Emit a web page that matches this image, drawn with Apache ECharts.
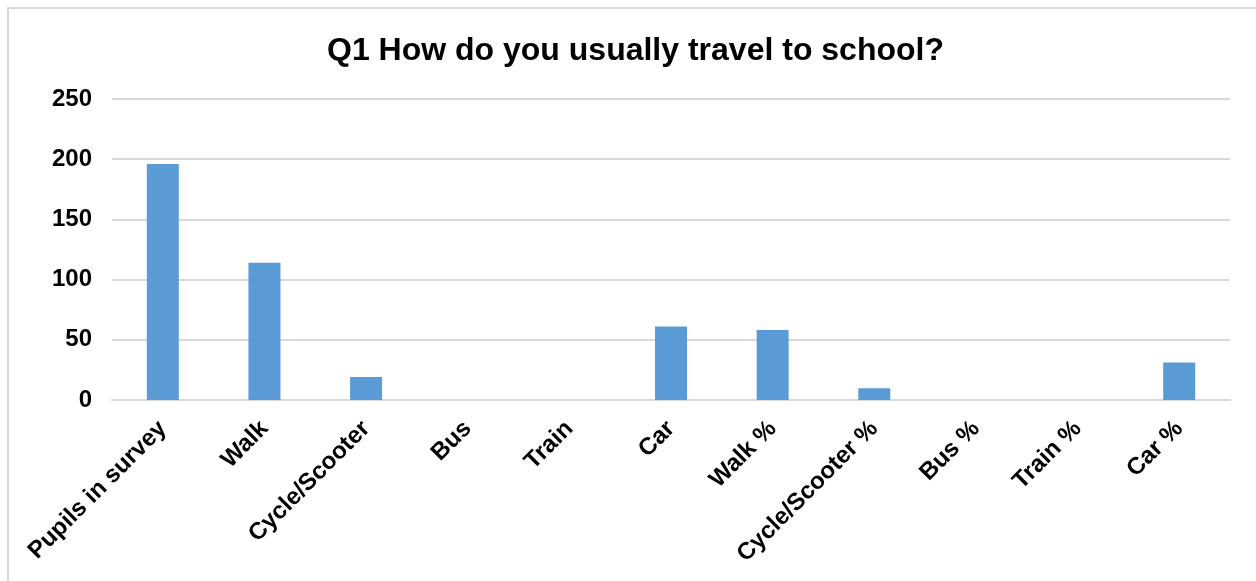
<!DOCTYPE html>
<html>
<head>
<meta charset="utf-8">
<script src="https://cdn.jsdelivr.net/npm/echarts@6/dist/echarts.min.js"></script>
<style>
html,body{margin:0;padding:0;background:#fff;}
#chart{width:1256px;height:581px;}
</style>
</head>
<body>
<div id="chart"></div>
<script>
const titleText = 'Q1 How do you usually travel to school?';
const categories = ['Pupils in survey','Walk','Cycle/Scooter','Bus','Train','Car','Walk %','Cycle/Scooter %','Bus %','Train %','Car %'];
const values = [196,114,19,0,0,61,58.2,9.7,0,0,31.1];
const yMin = 0, yMax = 250, yInterval = 50;

const font = '"Liberation Sans", Arial, sans-serif';
const chart = echarts.init(document.getElementById('chart'));
chart.setOption({
  animation: false,
  backgroundColor: '#fff',
  graphic: [{
    type: 'rect',
    shape: {x: 8, y: 8, width: 1260, height: 600},
    style: {fill: 'none', stroke: '#d9d9d9', lineWidth: 2},
    silent: true
  }],
  title: {
    text: titleText,
    left: 327,
    top: 35,
    padding: 0,
    textStyle: {fontFamily: font, fontSize: 32, fontWeight: 'bold', color: '#000'}
  },
  grid: {left: 112, right: 26, top: 99, bottom: 181, containLabel: false},
  xAxis: {
    type: 'category',
    data: categories,
    axisLine: {show: true, lineStyle: {color: '#d9d9d9', width: 2}},
    axisTick: {show: false},
    axisLabel: {
      rotate: 45,
      interval: 0,
      margin: 25,
      fontFamily: font,
      fontSize: 24,
      fontWeight: 'bold',
      color: '#000'
    }
  },
  yAxis: {
    type: 'value',
    min: yMin, max: yMax, interval: yInterval,
    axisLine: {show: false},
    axisTick: {show: false},
    splitLine: {lineStyle: {color: '#d9d9d9', width: 2}},
    axisLabel: {margin: 20, fontFamily: font, fontSize: 24, fontWeight: 'bold', color: '#000'}
  },
  series: [{
    type: 'bar',
    data: values,
    barWidth: 32,
    itemStyle: {color: '#5b9bd5'}
  }]
});
</script>
</body>
</html>
